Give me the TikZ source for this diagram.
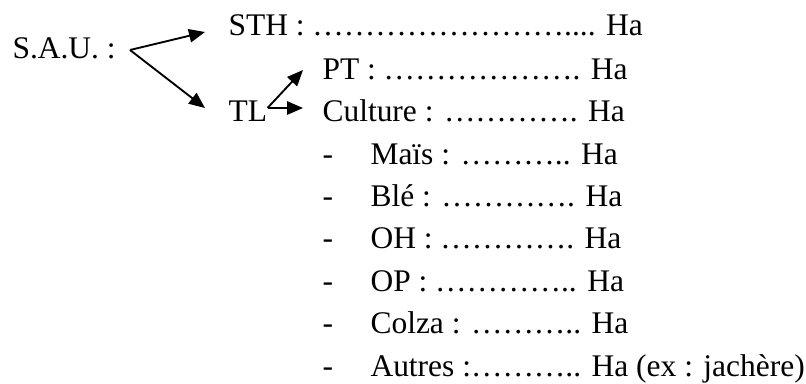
\documentclass[tikz,border=0pt]{standalone}
\usepackage{fontspec}
\setmainfont{Liberation Serif}
\usetikzlibrary{arrows.meta}

% a run of n ellipsis characters
\ExplSyntaxOn
\NewDocumentCommand\dotrun{m}{\prg_replicate:nn{#1}{…}}
\ExplSyntaxOff

\tikzset{
  entry/.style={anchor=base west, inner sep=0pt, font=\fontsize{11.8}{14}\selectfont},
  branch/.style={-{Triangle[length=6pt, width=5pt]}, line width=0.7pt},
}

\begin{document}
\begin{tikzpicture}[x=0.375pt, y=-0.375pt]
    \useasboundingbox (0,0) rectangle (806,383);

    % 1. Surface agricole utile and its two parts
    \node[entry] (sau) at (12,58) {S.A.U. :};
    \node[entry] (sth) at (228,35) {STH : \dotrun{8}.... Ha};
    \node[entry] (tl) at (228,121) {TL};
    \coordinate (fork) at (130,50);
    \draw[branch] (fork) -- ([shift={(-23,-3)}]sth.base west);
    \draw[branch] (fork) -- ([shift={(-23,-13)}]tl.base west);

    % 2. Terres labourables
    \node[entry] (pt) at (322,79) {PT : \dotrun{6}. Ha};
    \node[entry] (cult) at (322,121) {Culture : \dotrun{4}. Ha};
    \draw[branch] ([shift={(0,-13)}]tl.base east) -- ([shift={(-19,-9)}]pt.base west);
    \draw[branch] ([shift={(0,-13)}]tl.base east) -- ([shift={(-19,-13)}]cult.base west);

    % 3. Detail of the crops, one line each
    \foreach \name/\txt [count=\i from 0] in {
        mais/{Maïs : \dotrun{3}.. Ha},
        ble/{Blé : \dotrun{4}. Ha},
        oh/{OH : \dotrun{4}. Ha},
        op/{OP : \dotrun{4}.. Ha},
        colza/{Colza : \dotrun{3}.. Ha},
        autres/{Autres :\dotrun{3}.. Ha (ex : jachère)}} {
        \node[entry] (dash-\name) at (322,164+42.4*\i) {-};
        \node[entry] (\name) at (370,164+42.4*\i) {\txt};
    }

\end{tikzpicture}
\end{document}
